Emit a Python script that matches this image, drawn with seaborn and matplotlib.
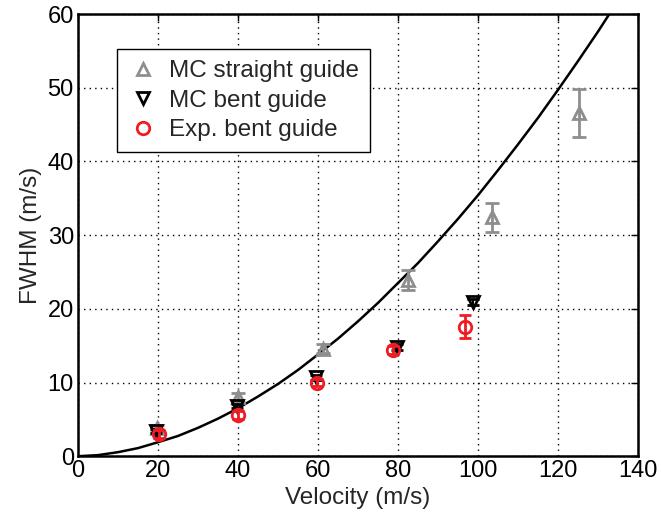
import numpy as np
import pandas as pd
import matplotlib
matplotlib.use("Agg")
import matplotlib.pyplot as plt
import seaborn as sns
from matplotlib.lines import Line2D

# ---- data ----
straight_v = [19.8, 40.0, 61.3, 82.5, 103.5, 125.3]
straight_fwhm = [3.8, 8.0, 14.6, 23.9, 32.4, 46.6]
straight_err = [0.4, 0.6, 0.6, 1.35, 2.0, 3.3]

bent_v = [19.5, 39.8, 59.5, 79.7, 98.8]
bent_fwhm = [3.4, 6.8, 10.7, 14.8, 20.9]
bent_err = [0.3, 0.3, 0.3, 0.4, 0.4]

exp_v = [20.2, 40.0, 59.8, 78.8, 96.8]
exp_fwhm = [3.0, 5.6, 10.0, 14.4, 17.6]
exp_err = [0.5, 0.5, 0.5, 0.5, 1.55]

curve_v = [0, 5, 10, 15, 20, 25, 30, 35, 40, 45, 50, 55, 60, 65, 70, 75, 80,
           85, 90, 95, 100, 105, 110, 115, 120, 125, 130, 135]
curve_fwhm = [0.0, 0.15, 0.55, 1.1, 1.9, 2.75, 3.85, 5.1, 6.5, 8.1, 9.8, 11.7,
              13.8, 15.95, 18.3, 20.8, 23.5, 26.2, 29.15, 32.2, 35.4, 38.8,
              42.3, 45.9, 49.7, 53.6, 57.6, 61.8]

xticks = [0, 20, 40, 60, 80, 100, 120, 140]
yticks = [0, 10, 20, 30, 40, 50, 60]
legend_labels = ["MC straight guide", "MC bent guide", "Exp. bent guide"]

sns.set_style("white")
plt.rcParams['font.family'] = ['Liberation Sans', 'DejaVu Sans']

fig = plt.figure(figsize=(6.61, 5.22), dpi=100)
ax = fig.add_axes([0.118, 0.126, 0.847, 0.847])

curve_df = pd.DataFrame({"v": curve_v, "f": curve_fwhm})
sns.lineplot(data=curve_df, x="v", y="f", ax=ax, color="black", lw=1.8,
             sort=False, estimator=None, zorder=2)

gray = "#8e8e8e"
red = "#ee1c24"
ax.errorbar(straight_v, straight_fwhm, yerr=straight_err, fmt="^", ms=9,
            mfc="none", mec=gray, mew=2, ecolor=gray, elinewidth=2,
            capsize=5, capthick=2, zorder=3)
ax.errorbar(bent_v, bent_fwhm, yerr=bent_err, fmt="v", ms=9,
            mfc="none", mec="black", mew=2, ecolor="black", elinewidth=1.5,
            capsize=4, capthick=1.5, zorder=4)
ax.errorbar(exp_v, exp_fwhm, yerr=exp_err, fmt="o", ms=9,
            mfc="none", mec=red, mew=2, ecolor=red, elinewidth=2,
            capsize=4, capthick=2, zorder=5)

ax.set_xlim(0, 140)
ax.set_ylim(0, 60)
ax.set_xticks(xticks)
ax.set_yticks(yticks)
ax.grid(True, linestyle=(0, (1, 3)), color="black", lw=1.0)
ax.set_axisbelow(True)
for s in ax.spines.values():
    s.set_visible(True)
    s.set_color("black")
    s.set_linewidth(1.8)
ax.tick_params(direction="in", length=5, width=1, top=True, right=True,
               labelsize=17, colors="black", pad=3)
ax.set_xlabel("Velocity (m/s)", fontsize=17.5, labelpad=3)
ax.set_ylabel("FWHM (m/s)", fontsize=17.5, labelpad=4)

h2 = [Line2D([], [], ls="none", marker="^", ms=9, mfc="none", mec=gray, mew=2),
      Line2D([], [], ls="none", marker="v", ms=9, mfc="none", mec="black", mew=2),
      Line2D([], [], ls="none", marker="o", ms=9, mfc="none", mec=red, mew=2)]
leg = ax.legend(h2, legend_labels,
                loc="upper left", bbox_to_anchor=(0.07, 0.92), borderaxespad=0,
                fontsize=17.5, frameon=True, fancybox=False, framealpha=1,
                edgecolor="black", handlelength=1.2, handletextpad=0.5,
                labelspacing=0.3, borderpad=0.45)
leg.get_frame().set_linewidth(1.0)

fig.savefig("out.png", dpi=100)
